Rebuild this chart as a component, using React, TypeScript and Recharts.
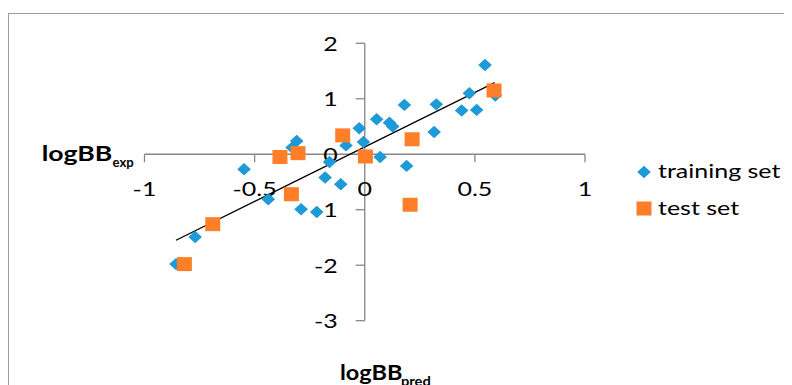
import React from "react";
import { ReferenceDot, ReferenceLine, Scatter, ScatterChart, XAxis, YAxis } from "recharts";

// logBB_pred (x) vs logBB_exp (y)
const trainX = [0.546, 0.475, 0.593, 0.44, 0.508, 0.325, 0.18, 0.315, 0.112, 0.127, 0.054, -0.025, -0.006, 0.07, 0.19, -0.085, -0.309, -0.33, -0.548, -0.16, -0.18, -0.109, -0.438, -0.289, -0.218, -0.77, -0.857];
const trainY = [1.61, 1.1, 1.06, 0.79, 0.8, 0.9, 0.89, 0.4, 0.57, 0.5, 0.63, 0.47, 0.22, -0.05, -0.21, 0.16, 0.24, 0.12, -0.27, -0.14, -0.42, -0.54, -0.81, -0.99, -1.04, -1.49, -1.98];

const testX = [0.587, 0.215, 0.003, -0.1, -0.303, -0.385, -0.333, -0.69, -0.819, 0.206];
const testY = [1.15, 0.27, -0.04, 0.34, 0.02, -0.05, -0.72, -1.26, -1.98, -0.91];

const trendX = [-0.857, 0.59];
const trendY = [-1.55, 1.29];

const xTicks = [-1, -0.5, 0, 0.5, 1];
const yTicks = [-3, -2, -1, 0, 1, 2];

const BLUE = "#1e9ad6";
const ORANGE = "#fe7f27";
const AXIS = "#868686";
const FONT = "Lato, 'Liberation Sans', sans-serif";
// the reference is stretched sideways a bit, so text is widened to match
const SX = 1.25;

const trainData = trainX.map((x, i) => ({ x, y: trainY[i] }));
const testData = testX.map((x, i) => ({ x, y: testY[i] }));

const Diamond = (p: any) => {
  const rx = 6.8;
  const ry = 6.2;
  return <polygon points={`${p.cx},${p.cy - ry} ${p.cx + rx},${p.cy} ${p.cx},${p.cy + ry} ${p.cx - rx},${p.cy}`} fill={BLUE} />;
};

const Square = (p: any) => <rect x={p.cx - 7.5} y={p.cy - 7} width={15} height={14} fill={ORANGE} />;

const Wide = ({ x, y, anchor, size = 20, weight, sx = SX, children }: any) => (
  <text
    transform={`translate(${x},${y}) scale(${sx},1)`}
    textAnchor={anchor}
    fontSize={size}
    fontWeight={weight}
    fontFamily={FONT}
    fill="#000"
  >
    {children}
  </text>
);

const XTick = (p: any) => (
  <g>
    <line x1={p.cx} y1={p.cy} x2={p.cx} y2={p.cy + 8} stroke={AXIS} strokeWidth={1.3} />
    <Wide x={p.cx} y={p.cy + 42} anchor="middle">{p.t}</Wide>
  </g>
);

const YTick = (p: any) => (
  <g>
    <line x1={p.cx - 9} y1={p.cy} x2={p.cx} y2={p.cy} stroke={AXIS} strokeWidth={1.3} />
    <Wide x={p.cx - 27} y={p.cy + 7.5} anchor="end">{p.t}</Wide>
  </g>
);

export default function App() {
  return (
    <div style={{ marginTop: 5, width: 784, height: 372, overflow: "hidden", borderLeft: "1px solid #9a9a9a", borderTop: "1px solid #9a9a9a", boxSizing: "border-box" }}>
      <ScatterChart width={783} height={371} margin={{ top: 29.3, right: 207, bottom: 64.3, left: 135.5 }}>
        <XAxis type="number" dataKey="x" domain={[-1, 1]} hide />
        <YAxis type="number" dataKey="y" domain={[-3, 2]} hide />
        <ReferenceLine y={0} stroke={AXIS} strokeWidth={1.3} />
        <ReferenceLine x={0} stroke={AXIS} strokeWidth={1.3} />
        {xTicks.map((t) => (
          <ReferenceDot key={"x" + t} x={t} y={0} r={0} shape={(p: any) => <XTick {...p} t={t} />} />
        ))}
        {yTicks.map((t) => (
          <ReferenceDot key={"y" + t} x={0} y={t} r={0} shape={(p: any) => <YTick {...p} t={t} />} />
        ))}
        <Scatter name="training set" data={trainData} shape={Diamond} isAnimationActive={false} />
        <Scatter name="test set" data={testData} shape={Square} isAnimationActive={false} />
        <ReferenceLine
          segment={[
            { x: trendX[0], y: trendY[0] },
            { x: trendX[1], y: trendY[1] },
          ]}
          stroke="#000"
          strokeWidth={1.3}
        />
        <Wide x={32.7} y={147} size={20} weight="bold" sx={1.33}>logBB</Wide>
        <Wide x={103.5} y={152.7} size={12.5} weight="bold" sx={1.05}>exp</Wide>
        <Wide x={331} y={366} size={21} weight="bold" sx={1.12}>logBB</Wide>
        <Wide x={392} y={372} size={14} weight="bold" sx={1.05}>pred</Wide>
        <polygon points="635,151.8 641.8,158 635,164.2 628.2,158" fill={BLUE} />
        <Wide x={649} y={164.3}>training set</Wide>
        <rect x={627.5} y={187.5} width={15} height={14} fill={ORANGE} />
        <Wide x={649} y={201}>test set</Wide>
      </ScatterChart>
    </div>
  );
}
